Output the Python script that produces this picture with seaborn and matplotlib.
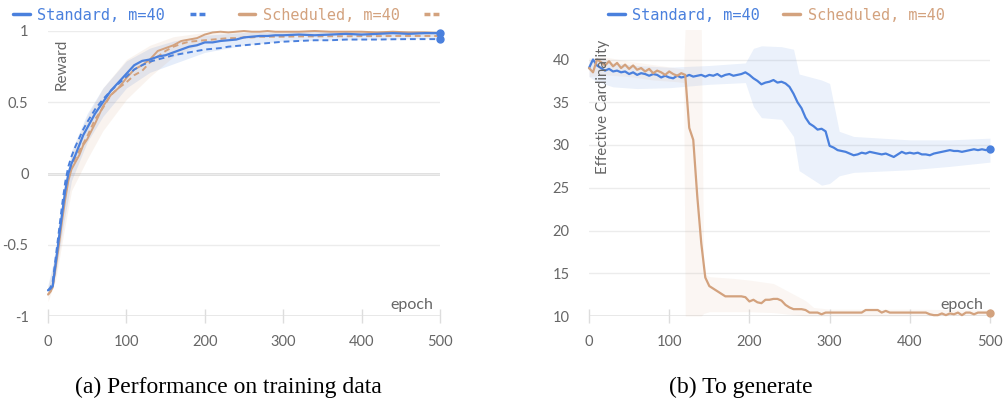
import numpy as np
import pandas as pd
import matplotlib
matplotlib.use("Agg")
import matplotlib.pyplot as plt
import seaborn as sns
from matplotlib.lines import Line2D

# ---- left panel: reward vs epoch ----
reward_epochs = [0, 3, 6, 10, 14, 18, 22, 26, 30, 35, 40, 45, 50, 60, 70, 80, 90, 100,
                 110, 120, 130, 140, 150, 160, 170, 180, 190, 200, 210, 220, 230, 240,
                 250, 260, 270, 280, 290, 300, 320, 340, 360, 380, 400, 420, 440, 460,
                 480, 500]
std_reward = [-0.82, -0.81, -0.79, -0.62, -0.45, -0.28, -0.12, 0.0, 0.07, 0.13, 0.20, 0.27,
              0.32, 0.42, 0.50, 0.58, 0.64, 0.70, 0.76, 0.79, 0.80, 0.82, 0.83, 0.85, 0.87,
              0.89, 0.90, 0.92, 0.92, 0.93, 0.935, 0.94, 0.955, 0.96, 0.965, 0.965, 0.97,
              0.97, 0.975, 0.97, 0.975, 0.98, 0.975, 0.98, 0.985, 0.98, 0.985, 0.985]
std_reward_dash = [-0.82, -0.80, -0.76, -0.58, -0.40, -0.22, -0.06, 0.05, 0.12, 0.19, 0.25,
                   0.31, 0.36, 0.45, 0.52, 0.58, 0.63, 0.68, 0.73, 0.76, 0.785, 0.80, 0.815,
                   0.83, 0.84, 0.85, 0.86, 0.87, 0.875, 0.88, 0.89, 0.895, 0.90, 0.905, 0.91,
                   0.915, 0.92, 0.925, 0.93, 0.935, 0.935, 0.94, 0.94, 0.94, 0.942, 0.943,
                   0.943, 0.943]
sch_reward = [-0.85, -0.83, -0.80, -0.65, -0.50, -0.33, -0.18, -0.05, 0.03, 0.08, 0.13, 0.20,
              0.24, 0.35, 0.47, 0.55, 0.60, 0.67, 0.73, 0.76, 0.80, 0.86, 0.88, 0.90, 0.93,
              0.94, 0.95, 0.975, 0.99, 0.995, 0.99, 0.995, 1.0, 0.995, 0.995, 1.0, 0.995,
              0.995, 0.995, 1.0, 0.995, 0.995, 0.995, 0.99, 0.995, 0.99, 0.99, 0.985]
sch_reward_dash = [-0.85, -0.83, -0.79, -0.63, -0.47, -0.30, -0.15, -0.03, 0.05, 0.11, 0.16,
                   0.21, 0.26, 0.38, 0.46, 0.55, 0.60, 0.64, 0.69, 0.72, 0.78, 0.82, 0.86,
                   0.89, 0.91, 0.925, 0.93, 0.935, 0.94, 0.945, 0.95, 0.95, 0.955, 0.955,
                   0.96, 0.96, 0.96, 0.96, 0.962, 0.962, 0.963, 0.963, 0.964, 0.964, 0.965,
                   0.965, 0.965, 0.965]

reward_band_epochs = [0, 10, 20, 30, 50, 70, 100, 130, 160, 200, 250, 300, 400, 500]
std_reward_hi = [-0.78, -0.55, -0.15, 0.16, 0.42, 0.60, 0.79, 0.88, 0.93, 0.97, 0.99, 0.995, 1.0, 1.0]
std_reward_lo = [-0.86, -0.70, -0.35, -0.05, 0.22, 0.40, 0.60, 0.71, 0.77, 0.85, 0.90, 0.93, 0.94, 0.95]
sch_reward_hi = [-0.80, -0.58, -0.20, 0.14, 0.40, 0.60, 0.80, 0.90, 0.96, 0.99, 1.0, 1.0, 1.0, 1.0]
sch_reward_lo = [-0.90, -0.74, -0.42, -0.12, 0.10, 0.30, 0.52, 0.68, 0.82, 0.92, 0.96, 0.97, 0.97, 0.96]

# ---- right panel: effective cardinality vs epoch ----
card_epochs = list(range(0, 501, 5))
std_card = [39.0, 40.0, 39.3, 39.0, 38.7, 38.9, 38.6, 38.7, 38.5, 38.6,
            38.3, 38.5, 38.2, 38.4, 38.3, 38.1, 38.3, 38.2, 37.9, 38.1,
            37.9, 37.8, 38.1, 37.9, 38.0, 38.2, 38.0, 38.1, 38.2, 38.0,
            38.2, 38.1, 38.3, 38.0, 38.2, 38.3, 38.1, 38.2, 38.3, 38.5,
            38.2, 37.8, 37.5, 37.1, 37.3, 37.4, 37.6, 37.3, 37.4, 37.2,
            36.8, 36.0, 35.0, 34.3, 33.2, 32.5, 32.2, 31.8, 31.9, 31.6,
            29.9, 29.7, 29.4, 29.3, 29.2, 29.0, 28.8, 28.9, 29.1, 29.0,
            29.2, 29.1, 29.0, 28.9, 29.0, 28.8, 28.6, 28.9, 29.2, 29.0,
            29.1, 29.0, 29.1, 28.9, 28.9, 28.8, 29.0, 29.1, 29.2, 29.3,
            29.4, 29.3, 29.3, 29.2, 29.3, 29.4, 29.5, 29.4, 29.5, 29.4,
            29.5]
sch_card = [39.0, 38.5, 40.0, 39.7, 39.3, 39.8, 39.2, 39.6, 39.0, 39.4,
            38.9, 39.3, 38.8, 39.0, 38.6, 38.9, 38.4, 38.7, 38.5, 38.2,
            38.6, 38.3, 38.1, 38.4, 38.2, 32.0, 30.6, 24.0, 18.5, 14.5,
            13.5, 13.2, 12.9, 12.6, 12.3, 12.3, 12.3, 12.3, 12.3, 12.2,
            11.7, 11.9, 11.6, 11.5, 11.9, 11.9, 12.0, 12.0, 11.8, 11.3,
            11.0, 10.8, 10.8, 10.8, 10.7, 10.4, 10.4, 10.4, 10.2, 10.4,
            10.4, 10.4, 10.4, 10.4, 10.4, 10.4, 10.4, 10.4, 10.4, 10.7,
            10.7, 10.7, 10.7, 10.4, 10.6, 10.4, 10.4, 10.4, 10.4, 10.4,
            10.4, 10.4, 10.4, 10.4, 10.4, 10.2, 10.1, 10.1, 10.3, 10.1,
            10.3, 10.2, 10.4, 10.1, 10.4, 10.4, 10.2, 10.4, 10.4, 10.4,
            10.4]

std_band_epochs = [0, 10, 30, 60, 100, 150, 195, 205, 215, 240, 255, 262, 290, 300, 312, 330, 400, 450, 500]
std_card_hi = [39.8, 40.3, 39.6, 39.3, 39.1, 39.3, 39.6, 41.3, 41.6, 41.5, 41.2, 38.3, 37.6, 37.2, 31.6, 31.0, 30.6, 30.6, 30.8]
std_card_lo = [38.0, 37.4, 36.8, 36.6, 36.7, 37.1, 37.3, 34.5, 33.2, 33.0, 31.0, 27.0, 25.3, 25.5, 26.4, 26.8, 27.1, 27.5, 28.0]

sch_band_epochs = [0, 20, 50, 80, 110, 118, 120, 140, 143, 150, 180, 200, 230, 250, 270, 280, 300, 400, 500]
sch_card_hi = [40.2, 40.3, 39.8, 39.4, 39.0, 38.9, 44.0, 44.0, 15.0, 14.6, 14.4, 14.2, 13.8, 12.8, 11.8, 11.0, 10.8, 10.8, 10.7]
sch_card_lo = [38.0, 38.2, 38.0, 37.6, 37.4, 37.3, 10.0, 10.0, 10.3, 10.5, 10.5, 10.5, 10.4, 10.2, 10.0, 10.0, 10.0, 10.0, 10.1]

reward_ticks = [-1, -0.5, 0, 0.5, 1]
reward_tick_labels = ["-1", "-0.5", "0", "0.5", "1"]
card_ticks = [10, 15, 20, 25, 30, 35, 40]
epoch_ticks = [0, 100, 200, 300, 400, 500]
labels = ["Standard, m=40", "Scheduled, m=40"]
captions = ["(a) Performance on training data", "(b) To generate"]

BLUE = "#4a80dd"
TAN = "#d3a27e"
GRID = "#ececec"
TXT = "#666666"

sns.set_theme(style="white")
plt.rcParams["font.family"] = ["Lato", "DejaVu Sans"]

fig = plt.figure(figsize=(10.05, 4.09), dpi=100)
W, H = 1005, 409
ax1 = fig.add_axes([48 / W, 1 - 316 / H, 392 / W, 285 / H])
ax2 = fig.add_axes([589 / W, 1 - 316 / H, 401 / W, 286 / H])

dash = (0, (3, 2))

# left panel
ax1.fill_between(reward_band_epochs, std_reward_lo, std_reward_hi, color=BLUE, alpha=0.14, lw=0)
ax1.fill_between(reward_band_epochs, sch_reward_lo, sch_reward_hi, color=TAN, alpha=0.12, lw=0)
sns.lineplot(x=reward_epochs, y=sch_reward_dash, ax=ax1, color=TAN, lw=1.4, ls=dash, clip_on=False)
sns.lineplot(x=reward_epochs, y=sch_reward, ax=ax1, color=TAN, lw=1.4, clip_on=False)
sns.lineplot(x=reward_epochs, y=std_reward_dash, ax=ax1, color=BLUE, lw=1.4, ls=dash, clip_on=False)
sns.lineplot(x=reward_epochs, y=std_reward, ax=ax1, color=BLUE, lw=1.6, clip_on=False)
ax1.plot([reward_epochs[-1]] * 2, [std_reward[-1], std_reward_dash[-1]], "o", color=BLUE,
         ms=5, clip_on=False, zorder=5)
ax1.axhline(0, color="#dcdcdc", lw=2, zorder=0)
ax1.set_ylim(-1, 1)
ax1.set_yticks(reward_ticks)
ax1.set_yticklabels(reward_tick_labels)

# right panel
ax2.fill_between(std_band_epochs, std_card_lo, std_card_hi, color=BLUE, alpha=0.11, lw=0)
ax2.fill_between(sch_band_epochs, sch_card_lo, sch_card_hi, color=TAN, alpha=0.09, lw=0)
sns.lineplot(x=card_epochs, y=std_card, ax=ax2, color=BLUE, lw=1.6, clip_on=False)
sns.lineplot(x=card_epochs, y=sch_card, ax=ax2, color=TAN, lw=1.6, clip_on=False)
ax2.plot(card_epochs[-1], std_card[-1], "o", color=BLUE, ms=5, clip_on=False, zorder=5)
ax2.plot(card_epochs[-1], sch_card[-1], "o", color=TAN, ms=5, clip_on=False, zorder=5)
ax2.set_ylim(10, 10 + 286 / 8.55)
ax2.set_yticks(card_ticks)

for ax in (ax1, ax2):
    ax.set_xlim(0, 500)
    ax.set_xticks(epoch_ticks)
    ax.set_xlabel("")
    ax.set_ylabel("")
    for s in ax.spines.values():
        s.set_visible(False)
    ax.grid(axis="y", color=GRID, lw=1)
    ax.grid(axis="x", visible=False)
    ax.axhline(ax.get_ylim()[0], color="#e4e4e4", lw=1.2, zorder=0)
    ax.tick_params(axis="x", direction="inout", length=10, width=1, color="#dddddd",
                   pad=9, labelsize=10.5, labelcolor=TXT, bottom=True)
    ax.tick_params(axis="y", length=0, pad=14, labelsize=10.5, labelcolor=TXT)
    ax.text(0.982, 0.04, "epoch", transform=ax.transAxes, ha="right", va="center",
            fontsize=11.5, color=TXT)
    ax.set_facecolor("none")

ax1.text(0.036, 0.975, "Reward", transform=ax1.transAxes, rotation=90, ha="center",
         va="top", fontsize=11, color=TXT)
ax2.text(0.035, 0.965, "Effective Cardinality", transform=ax2.transAxes, rotation=90,
         ha="center", va="top", fontsize=10.8, color=TXT)

# legends
leg_font = {"family": "DejaVu Sans Mono", "size": 11}
hdash = (0, (1.7, 0.9))
h_left = [Line2D([], [], color=BLUE, lw=2.5), Line2D([], [], color=BLUE, lw=2.5, ls=hdash),
          Line2D([], [], color=TAN, lw=2.5), Line2D([], [], color=TAN, lw=2.5, ls=hdash)]
fig.legend(h_left, [labels[0], "", labels[1], ""], loc="center left",
           bbox_to_anchor=(13 / W, 1 - 15 / H), ncol=4, frameon=False, prop=leg_font,
           handlelength=1.1, handletextpad=0.5, columnspacing=1.6, borderpad=0,
           borderaxespad=0, labelcolor="linecolor")
h_right = [Line2D([], [], color=BLUE, lw=2.5), Line2D([], [], color=TAN, lw=2.5)]
fig.legend(h_right, labels, loc="center left", bbox_to_anchor=(608 / W, 1 - 15 / H),
           ncol=2, frameon=False, prop=leg_font, handlelength=1.1, handletextpad=0.5,
           columnspacing=1.5, borderpad=0, borderaxespad=0, labelcolor="linecolor")

fig.text(228 / W, 1 - 387 / H, captions[0], ha="center", va="center",
         family="Liberation Serif", fontsize=17, color="black")
fig.text(741 / W, 1 - 387 / H, captions[1], ha="center", va="center",
         family="Liberation Serif", fontsize=17, color="black")

fig.savefig("out.png", dpi=100)
